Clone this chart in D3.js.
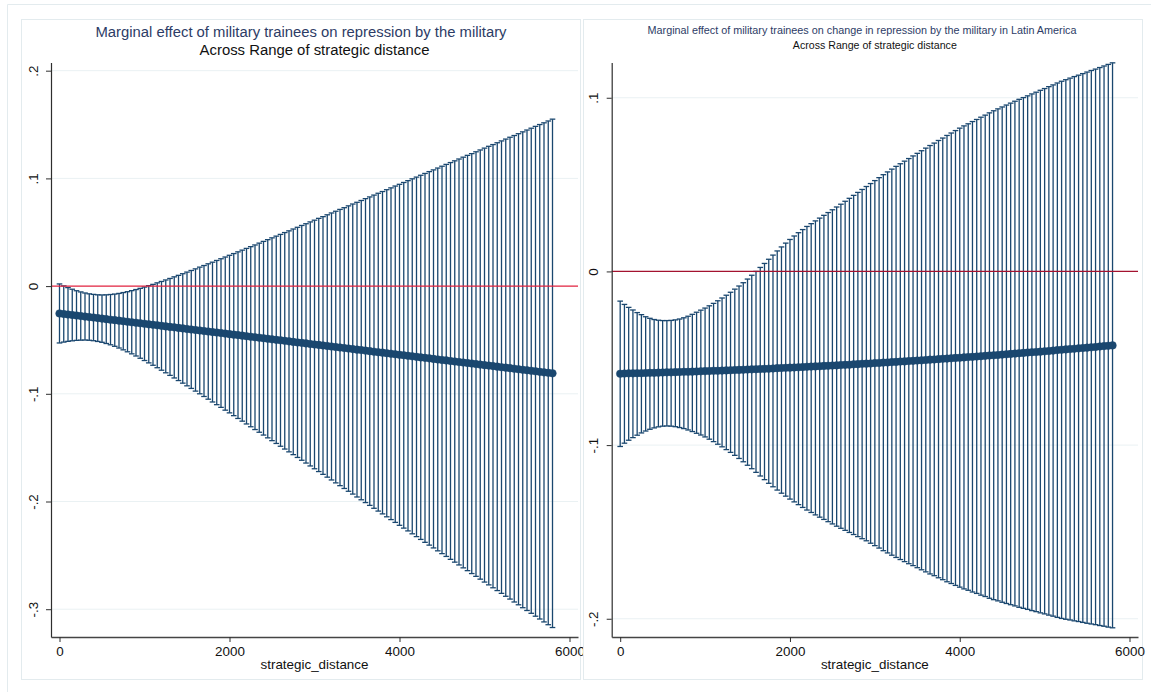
<!DOCTYPE html>
<html>
<head>
<meta charset="utf-8">
<script src="https://cdn.jsdelivr.net/npm/d3@7"></script>
<style>
  html, body { margin: 0; padding: 0; background: #ffffff; }
  svg { display: block; font-family: "Liberation Sans", Arial, Helvetica, sans-serif; }
</style>
</head>
<body>
<svg id="chart" width="1151" height="692"></svg>
<script>
// Evaluation grid of strategic distance (same for both panels)
const distance = [
  0,50,100,150,200,250,300,350,400,450,500,550,600,650,700,750,800,850,900,950,
  1000,1050,1100,1150,1200,1250,1300,1350,1400,1450,1500,1550,1600,1650,1700,1750,1800,1850,1900,1950,
  2000,2050,2100,2150,2200,2250,2300,2350,2400,2450,2500,2550,2600,2650,2700,2750,2800,2850,2900,2950,
  3000,3050,3100,3150,3200,3250,3300,3350,3400,3450,3500,3550,3600,3650,3700,3750,3800,3850,3900,3950,
  4000,4050,4100,4150,4200,4250,4300,4350,4400,4450,4500,4550,4600,4650,4700,4750,4800,4850,4900,4950,
  5000,5050,5100,5150,5200,5250,5300,5350,5400,5450,5500,5550,5600,5650,5700,5750,5800
];

// Panel 1: marginal effect on repression by the military
const repressionEffect = [
  -0.0254,-0.0259,-0.0264,-0.0268,-0.0273,-0.0278,-0.0283,-0.0288,-0.0292,-0.0297,
  -0.0302,-0.0307,-0.0312,-0.0316,-0.0321,-0.0326,-0.0331,-0.0336,-0.0340,-0.0345,
  -0.0350,-0.0355,-0.0359,-0.0364,-0.0369,-0.0374,-0.0379,-0.0383,-0.0388,-0.0393,
  -0.0398,-0.0403,-0.0407,-0.0412,-0.0417,-0.0422,-0.0427,-0.0431,-0.0436,-0.0441,
  -0.0446,-0.0451,-0.0455,-0.0460,-0.0465,-0.0470,-0.0475,-0.0479,-0.0484,-0.0489,
  -0.0494,-0.0499,-0.0503,-0.0508,-0.0513,-0.0518,-0.0523,-0.0527,-0.0532,-0.0537,
  -0.0542,-0.0546,-0.0551,-0.0556,-0.0561,-0.0566,-0.0570,-0.0575,-0.0580,-0.0585,
  -0.0590,-0.0594,-0.0599,-0.0604,-0.0609,-0.0614,-0.0618,-0.0623,-0.0628,-0.0633,
  -0.0638,-0.0642,-0.0647,-0.0652,-0.0657,-0.0662,-0.0666,-0.0671,-0.0676,-0.0681,
  -0.0686,-0.0690,-0.0695,-0.0700,-0.0705,-0.0710,-0.0714,-0.0719,-0.0724,-0.0729,
  -0.0734,-0.0738,-0.0743,-0.0748,-0.0753,-0.0757,-0.0762,-0.0767,-0.0772,-0.0777,
  -0.0781,-0.0786,-0.0791,-0.0796,-0.0801,-0.0805,-0.0810
];
const repressionUpper = [
  0.0020,0.0002,-0.0014,-0.0029,-0.0043,-0.0054,-0.0064,-0.0072,-0.0077,-0.0081,
  -0.0082,-0.0081,-0.0078,-0.0074,-0.0068,-0.0060,-0.0052,-0.0042,-0.0032,-0.0021,
  -0.0009,0.0004,0.0016,0.0030,0.0043,0.0057,0.0071,0.0086,0.0100,0.0115,
  0.0130,0.0145,0.0160,0.0176,0.0191,0.0207,0.0222,0.0238,0.0254,0.0270,
  0.0286,0.0302,0.0318,0.0334,0.0350,0.0366,0.0382,0.0399,0.0415,0.0431,
  0.0448,0.0464,0.0480,0.0497,0.0513,0.0530,0.0546,0.0563,0.0579,0.0596,
  0.0612,0.0629,0.0645,0.0662,0.0679,0.0695,0.0712,0.0728,0.0745,0.0762,
  0.0778,0.0795,0.0812,0.0828,0.0845,0.0862,0.0878,0.0895,0.0912,0.0929,
  0.0945,0.0962,0.0979,0.0996,0.1012,0.1029,0.1046,0.1063,0.1079,0.1096,
  0.1113,0.1130,0.1147,0.1163,0.1180,0.1197,0.1214,0.1230,0.1247,0.1264,
  0.1281,0.1298,0.1314,0.1331,0.1348,0.1365,0.1382,0.1398,0.1415,0.1432,
  0.1449,0.1466,0.1483,0.1500,0.1516,0.1533,0.1550
];
const repressionLower = [
  -0.0528,-0.0520,-0.0513,-0.0508,-0.0504,-0.0502,-0.0501,-0.0503,-0.0507,-0.0514,
  -0.0522,-0.0533,-0.0545,-0.0559,-0.0575,-0.0592,-0.0610,-0.0629,-0.0649,-0.0670,
  -0.0691,-0.0713,-0.0735,-0.0758,-0.0781,-0.0805,-0.0829,-0.0853,-0.0877,-0.0901,
  -0.0926,-0.0950,-0.0975,-0.1000,-0.1025,-0.1050,-0.1076,-0.1101,-0.1126,-0.1152,
  -0.1177,-0.1203,-0.1229,-0.1254,-0.1280,-0.1306,-0.1332,-0.1357,-0.1383,-0.1409,
  -0.1435,-0.1461,-0.1487,-0.1513,-0.1539,-0.1565,-0.1591,-0.1617,-0.1643,-0.1670,
  -0.1696,-0.1722,-0.1748,-0.1774,-0.1800,-0.1827,-0.1853,-0.1879,-0.1905,-0.1931,
  -0.1958,-0.1984,-0.2010,-0.2036,-0.2063,-0.2089,-0.2115,-0.2142,-0.2168,-0.2194,
  -0.2221,-0.2247,-0.2273,-0.2300,-0.2326,-0.2352,-0.2379,-0.2405,-0.2431,-0.2458,
  -0.2484,-0.2510,-0.2537,-0.2563,-0.2589,-0.2616,-0.2642,-0.2669,-0.2695,-0.2721,
  -0.2748,-0.2774,-0.2801,-0.2827,-0.2853,-0.2880,-0.2906,-0.2933,-0.2959,-0.2986,
  -0.3012,-0.3038,-0.3065,-0.3091,-0.3118,-0.3144,-0.3170
];

// Panel 2: marginal effect on change in repression, Latin America
const changeEffect = [
  -0.0589,-0.0588,-0.0587,-0.0587,-0.0586,-0.0586,-0.0585,-0.0584,-0.0584,-0.0583,
  -0.0582,-0.0581,-0.0581,-0.0580,-0.0579,-0.0578,-0.0578,-0.0577,-0.0576,-0.0575,
  -0.0574,-0.0573,-0.0572,-0.0572,-0.0571,-0.0570,-0.0569,-0.0568,-0.0567,-0.0566,
  -0.0565,-0.0564,-0.0563,-0.0562,-0.0561,-0.0560,-0.0559,-0.0557,-0.0556,-0.0555,
  -0.0554,-0.0553,-0.0552,-0.0551,-0.0549,-0.0548,-0.0547,-0.0546,-0.0544,-0.0543,
  -0.0542,-0.0541,-0.0539,-0.0538,-0.0537,-0.0535,-0.0534,-0.0532,-0.0531,-0.0530,
  -0.0528,-0.0527,-0.0525,-0.0524,-0.0522,-0.0521,-0.0519,-0.0518,-0.0516,-0.0515,
  -0.0513,-0.0512,-0.0510,-0.0508,-0.0507,-0.0505,-0.0503,-0.0502,-0.0500,-0.0498,
  -0.0497,-0.0495,-0.0493,-0.0492,-0.0490,-0.0488,-0.0486,-0.0484,-0.0483,-0.0481,
  -0.0479,-0.0477,-0.0475,-0.0473,-0.0471,-0.0469,-0.0467,-0.0465,-0.0464,-0.0462,
  -0.0460,-0.0458,-0.0456,-0.0453,-0.0451,-0.0449,-0.0447,-0.0445,-0.0443,-0.0441,
  -0.0439,-0.0437,-0.0435,-0.0432,-0.0430,-0.0428,-0.0426
];
const changeUpper = [
  -0.0171,-0.0190,-0.0207,-0.0222,-0.0237,-0.0249,-0.0261,-0.0270,-0.0277,-0.0281,
  -0.0283,-0.0283,-0.0282,-0.0279,-0.0274,-0.0267,-0.0258,-0.0247,-0.0235,-0.0223,
  -0.0211,-0.0198,-0.0184,-0.0169,-0.0153,-0.0137,-0.0120,-0.0102,-0.0084,-0.0065,
  -0.0044,-0.0022,0.0000,0.0023,0.0046,0.0070,0.0094,0.0118,0.0141,0.0163,
  0.0184,0.0204,0.0223,0.0241,0.0259,0.0275,0.0291,0.0307,0.0323,0.0339,
  0.0355,0.0371,0.0387,0.0404,0.0421,0.0438,0.0455,0.0472,0.0489,0.0506,
  0.0523,0.0540,0.0557,0.0573,0.0589,0.0605,0.0620,0.0635,0.0650,0.0665,
  0.0680,0.0695,0.0710,0.0725,0.0739,0.0754,0.0768,0.0783,0.0797,0.0811,
  0.0825,0.0838,0.0850,0.0863,0.0875,0.0888,0.0900,0.0913,0.0925,0.0936,
  0.0947,0.0958,0.0969,0.0980,0.0991,0.1001,0.1011,0.1022,0.1032,0.1043,
  0.1053,0.1064,0.1074,0.1085,0.1095,0.1104,0.1113,0.1122,0.1130,0.1139,
  0.1148,0.1157,0.1165,0.1174,0.1183,0.1192,0.1201
];
const changeLower = [
  -0.1008,-0.0989,-0.0972,-0.0957,-0.0943,-0.0930,-0.0919,-0.0909,-0.0901,-0.0895,
  -0.0891,-0.0890,-0.0891,-0.0894,-0.0899,-0.0905,-0.0913,-0.0922,-0.0932,-0.0942,
  -0.0953,-0.0966,-0.0980,-0.0995,-0.1010,-0.1026,-0.1042,-0.1059,-0.1077,-0.1096,
  -0.1116,-0.1136,-0.1157,-0.1178,-0.1199,-0.1220,-0.1240,-0.1259,-0.1277,-0.1294,
  -0.1311,-0.1327,-0.1343,-0.1359,-0.1374,-0.1388,-0.1402,-0.1415,-0.1428,-0.1441,
  -0.1454,-0.1467,-0.1479,-0.1491,-0.1503,-0.1515,-0.1527,-0.1539,-0.1551,-0.1565,
  -0.1579,-0.1593,-0.1608,-0.1621,-0.1634,-0.1647,-0.1659,-0.1671,-0.1683,-0.1694,
  -0.1706,-0.1718,-0.1730,-0.1742,-0.1752,-0.1764,-0.1775,-0.1787,-0.1797,-0.1808,
  -0.1818,-0.1828,-0.1836,-0.1846,-0.1854,-0.1864,-0.1872,-0.1882,-0.1890,-0.1897,
  -0.1905,-0.1912,-0.1919,-0.1926,-0.1934,-0.1940,-0.1946,-0.1953,-0.1959,-0.1966,
  -0.1972,-0.1979,-0.1985,-0.1992,-0.1998,-0.2003,-0.2007,-0.2012,-0.2016,-0.2021,
  -0.2026,-0.2030,-0.2034,-0.2039,-0.2043,-0.2048,-0.2052
];

// Axis ticks
const repressionYTicks = [0.2, 0.1, 0, -0.1, -0.2, -0.3];
const changeYTicks = [0.1, 0, -0.1, -0.2];
const xTicks = [0, 2000, 4000, 6000];

const xTitle = "strategic_distance";
const subTitle = "Across Range of strategic distance";

// ---------------------------------------------------------------------------
const svg = d3.select("#chart");
const NAVY = "#1a476f";
const FRAME = "#e3ebee";
const GRID = "#eaf1f3";
const AXIS = "#2e2e2e";

// Labels like ".2", "-.1", "0"
const shortLabel = v => Math.abs(v) < 1e-9 ? "0"
  : (v < 0 ? "-" : "") + Math.abs(v).toFixed(1).replace(/^0/, "");

// Outer border of the combined graph
svg.append("path")
  .attr("d", "M7.5,692V4.5H1151")
  .attr("fill", "none").attr("stroke", FRAME).attr("stroke-width", 1);

function fitWidth(sel, target) {
  const w = sel.node().getComputedTextLength();
  const fs = parseFloat(sel.style("font-size"));
  sel.style("font-size", (fs * target / w).toFixed(2) + "px");
}

function drawPanel(cfg) {
  const g = svg.append("g");
  const p = cfg.plot;

  // sub-graph border
  g.append("rect")
    .attr("x", cfg.frame[0] + 0.5).attr("y", cfg.frame[1] + 0.5)
    .attr("width", cfg.frame[2] - cfg.frame[0]).attr("height", cfg.frame[3] - cfg.frame[1])
    .attr("fill", "#ffffff").attr("stroke", FRAME).attr("stroke-width", 1);

  const x = d3.scaleLinear().domain([-100, 6100]).range([p.x0, p.x1]);
  const y = d3.scaleLinear().domain(cfg.yDomain).range([p.y1, p.y0]);

  // horizontal grid
  g.append("g").selectAll("line")
    .data(cfg.yTicks.filter(t => t !== 0))
    .join("line")
    .attr("x1", p.x0).attr("x2", p.x1)
    .attr("y1", d => y(d)).attr("y2", d => y(d))
    .attr("stroke", GRID).attr("stroke-width", 1);

  const rows = distance.map((d, i) => ({
    d, m: cfg.effect[i], hi: cfg.upper[i], lo: cfg.lower[i]
  }));

  // confidence interval caps and spikes
  const ci = g.append("g").attr("stroke", NAVY).attr("stroke-width", 1.3).attr("fill", "none");
  ci.selectAll("line.spike").data(rows).join("line").attr("class", "spike")
    .attr("x1", r => x(r.d)).attr("x2", r => x(r.d))
    .attr("y1", r => y(r.hi)).attr("y2", r => y(r.lo));
  ci.selectAll("line.capHi").data(rows).join("line").attr("class", "capHi")
    .attr("x1", r => x(r.d) - 2.8).attr("x2", r => x(r.d) + 2.8)
    .attr("y1", r => y(r.hi)).attr("y2", r => y(r.hi));
  ci.selectAll("line.capLo").data(rows).join("line").attr("class", "capLo")
    .attr("x1", r => x(r.d) - 2.8).attr("x2", r => x(r.d) + 2.8)
    .attr("y1", r => y(r.lo)).attr("y2", r => y(r.lo));

  // reference line at zero
  g.append("line")
    .attr("x1", p.x0).attr("x2", p.x1)
    .attr("y1", y(0)).attr("y2", y(0))
    .attr("stroke", cfg.zeroColor).attr("stroke-width", 1.3);

  // point estimates
  g.append("g").selectAll("circle").data(rows).join("circle")
    .attr("cx", r => x(r.d)).attr("cy", r => y(r.m)).attr("r", 3.8)
    .attr("fill", NAVY).attr("stroke", NAVY).attr("stroke-width", 0.5);

  // y axis
  const gy = g.append("g")
    .attr("transform", `translate(${p.x0},0)`)
    .call(d3.axisLeft(y).tickValues(cfg.yTicks).tickSize(5).tickSizeOuter(0).tickFormat(shortLabel));
  gy.attr("font-size", null).attr("font-family", null);
  gy.select(".domain").attr("stroke", AXIS).attr("stroke-width", 1.2);
  gy.selectAll(".tick line").attr("stroke", AXIS).attr("stroke-width", 1);
  gy.selectAll(".tick text")
    .attr("transform", "rotate(-90)")
    .attr("x", 0).attr("y", -13.5).attr("dy", null)
    .attr("text-anchor", "middle")
    .attr("fill", "#111").style("font-size", "13.4px");

  // x axis
  const gx = g.append("g")
    .attr("transform", `translate(0,${p.y1})`)
    .call(d3.axisBottom(x).tickValues(xTicks).tickSize(5).tickSizeOuter(0).tickFormat(d3.format("d")));
  gx.attr("font-size", null).attr("font-family", null);
  gx.select(".domain").attr("stroke", "#444").attr("stroke-width", 1.7);
  gx.selectAll(".tick line").attr("stroke", AXIS).attr("stroke-width", 1);
  gx.selectAll(".tick text")
    .attr("y", 19).attr("dy", null)
    .attr("fill", "#111").style("font-size", "13.4px");

  // axis title
  g.append("text")
    .attr("x", (p.x0 + p.x1) / 2).attr("y", 668.5)
    .attr("text-anchor", "middle").attr("fill", "#111")
    .style("font-size", "13.4px")
    .text(xTitle);

  // title and subtitle
  const t = g.append("text")
    .attr("x", cfg.titleX).attr("y", cfg.titleY)
    .attr("text-anchor", "middle").attr("fill", "#2d3c66")
    .style("font-size", "14px")
    .text(cfg.title);
  fitWidth(t, cfg.titleWidth);

  const s = g.append("text")
    .attr("x", (p.x0 + p.x1) / 2).attr("y", cfg.subY)
    .attr("text-anchor", "middle").attr("fill", "#111")
    .style("font-size", "13px")
    .text(subTitle);
  fitWidth(s, cfg.subWidth);
}

drawPanel({
  frame: [21, 19, 580, 679],
  plot: { x0: 51, x1: 578, y0: 62.5, y1: 637 },
  yDomain: [-0.3258, 0.2076],
  yTicks: repressionYTicks,
  effect: repressionEffect, upper: repressionUpper, lower: repressionLower,
  zeroColor: "#e1223f",
  title: "Marginal effect of military trainees on repression by the military",
  titleX: 301, titleY: 37, titleWidth: 411,
  subY: 55, subWidth: 230
});

drawPanel({
  frame: [583, 19, 1142, 679],
  plot: { x0: 611.7, x1: 1138, y0: 62.5, y1: 637 },
  yDomain: [-0.2105, 0.1203],
  yTicks: changeYTicks,
  effect: changeEffect, upper: changeUpper, lower: changeLower,
  zeroColor: "#a3122f",
  title: "Marginal effect of military trainees on change in repression by the military in Latin America",
  titleX: 862, titleY: 33.5, titleWidth: 429,
  subY: 49, subWidth: 164
});
</script>
</body>
</html>
